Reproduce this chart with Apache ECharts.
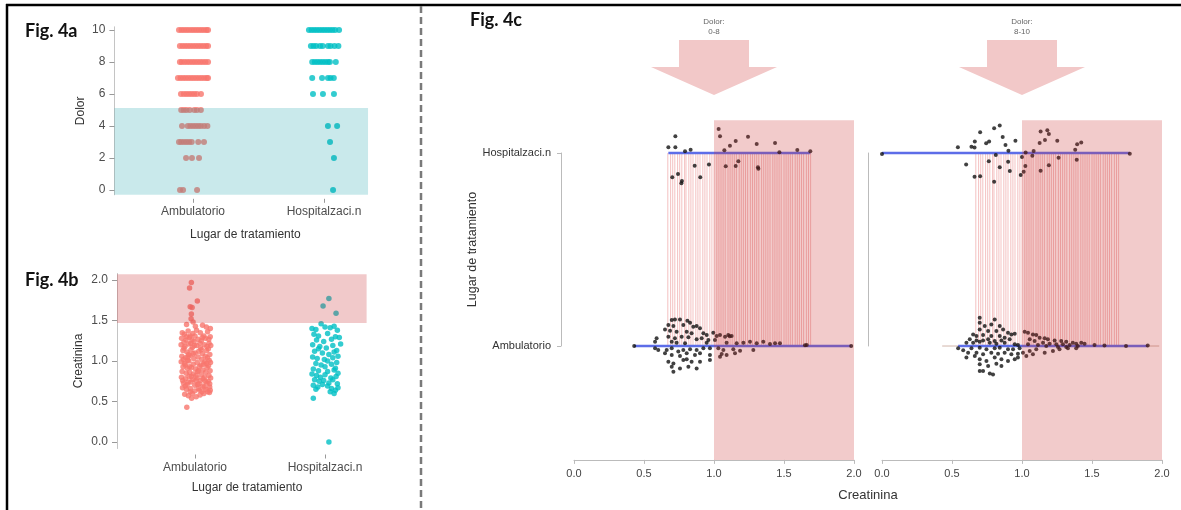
<!DOCTYPE html>
<html><head><meta charset="utf-8">
<script src="https://cdn.jsdelivr.net/npm/echarts@6/dist/echarts.min.js"></script>
<style>html,body{margin:0;padding:0;background:#fff}#c{width:1181px;height:510px}</style>
</head><body><div id="c"></div><script>
// ---------- categories & ticks ----------
const groupNames = ['Ambulatorio', 'Hospitalzaci.n'];
const groupPos = [1, 2];
const dolorTicks = [0, 2, 4, 6, 8, 10];
const creatTicks = [0, 0.5, 1, 1.5, 2];
const painGroups = ['0-8', '8-10'];

// ---------- Fig 4a: Dolor (x = group position + jitter, y = pain) ----------
const dolorAmb = [
 [0.893,10],[0.912,10],[0.931,10],[0.950,10],[0.969,10],[0.989,10],[1.008,10],[1.027,10],[1.046,10],[1.065,10],[1.084,10],[1.103,10],[1.115,10],
 [0.900,9],[0.920,9],[0.940,9],[0.960,9],[0.980,9],[1.000,9],[1.020,9],[1.040,9],[1.060,9],[1.080,9],[1.100,9],[1.115,9],
 [0.900,8],[0.915,8],[0.935,8],[0.955,8],[0.975,8],[0.995,8],[1.015,8],[1.035,8],[1.055,8],[1.075,8],[1.095,8],[1.115,8],
 [0.885,7],[0.905,7],[0.925,7],[0.945,7],[0.965,7],[0.985,7],[1.005,7],[1.025,7],[1.045,7],[1.065,7],[1.085,7],[1.105,7],[1.115,7],
 [0.908,6],[0.930,6],[0.950,6],[0.970,6],[0.990,6],[1.010,6],[1.030,6],[1.061,6],
 [0.910,5],[0.930,5],[0.950,5],[0.975,5],[1.010,5],[1.030,5],[1.060,5],
 [0.916,4],[0.960,4],[0.980,4],[1.000,4],[1.020,4],[1.040,4],[1.060,4],[1.085,4],[1.110,4],
 [0.893,3],[0.910,3],[0.930,3],[0.950,3],[0.970,3],[0.990,3],[1.040,3],[1.084,3],
 [0.947,2],[0.992,2],[1.046,2],
 [0.901,0],[0.924,0],[1.031,0]
];
const dolorHosp = [
 [1.885,10],[1.905,10],[1.925,10],[1.945,10],[1.965,10],[1.985,10],[2.005,10],[2.025,10],[2.045,10],[2.065,10],[2.085,10],[2.115,10],
 [1.900,9],[1.920,9],[1.940,9],[1.970,9],[1.990,9],[2.030,9],[2.050,9],[2.080,9],[2.110,9],
 [1.910,8],[1.930,8],[1.950,8],[1.970,8],[1.990,8],[2.010,8],[2.030,8],[2.045,8],[2.090,8],
 [1.910,7],[1.985,7],[2.030,7],[2.050,7],[2.075,7],
 [1.916,6],[1.992,6],[2.076,6],
 [2.030,4],[2.100,4],
 [2.046,3],[2.076,2],[2.069,0]
];
const dolorBand = [0.4, 2.336, -0.3, 5.12];   // low-pain band: x0, x1, y0, y1

// ---------- Fig 4b: Creatinina ----------
const creatAmb = [
 [0.972,1.97],[0.958,1.90],[1.018,1.74],[0.963,1.67],[0.978,1.66],[0.972,1.58],[0.970,1.52],[0.985,1.48],
 [0.935,1.45],[1.058,1.44],[1.087,1.42],[1.118,1.40],[1.003,1.43],
 [0.902,1.35],[0.918,1.33],[0.947,1.37],[0.983,1.34],[1.012,1.38],[1.041,1.35],[1.068,1.31],[1.097,1.36],[1.117,1.30],[0.962,1.31],
 [0.897,1.28],[0.931,1.26],[0.958,1.29],[0.992,1.24],[1.022,1.27],[1.049,1.25],[1.081,1.28],[1.108,1.22],[0.915,1.23],
 [0.893,1.20],[0.923,1.18],[0.952,1.21],[0.981,1.17],[1.013,1.19],[1.044,1.16],[1.072,1.20],[1.103,1.15],[1.121,1.19],[0.968,1.22],
 [0.907,1.13],[0.938,1.11],[0.969,1.14],[1.001,1.10],[1.029,1.12],[1.057,1.09],[1.088,1.13],[1.114,1.08],[0.951,1.08],
 [0.899,1.06],[0.928,1.04],[0.962,1.07],[0.991,1.03],[1.024,1.05],[1.052,1.02],[1.079,1.06],[1.109,1.01],[0.944,1.01],
 [0.894,0.99],[0.921,0.97],[0.953,1.00],[0.986,0.96],[1.017,0.98],[1.046,0.95],[1.076,0.99],[1.104,0.94],[1.119,0.98],
 [0.908,0.93],[0.941,0.91],[0.972,0.92],[1.004,0.90],[1.033,0.93],[1.061,0.89],[1.093,0.92],[1.116,0.88],[0.925,0.95],
 [0.901,0.87],[0.932,0.85],[0.959,0.86],[0.989,0.84],[1.021,0.87],[1.048,0.83],[1.082,0.86],[1.107,0.82],[0.972,0.81],
 [0.896,0.80],[0.927,0.78],[0.955,0.81],[0.984,0.77],[1.016,0.79],[1.043,0.76],[1.074,0.80],[1.102,0.75],[1.120,0.79],
 [0.911,0.73],[0.939,0.71],[0.968,0.74],[0.998,0.70],[1.031,0.72],[1.059,0.69],[1.091,0.73],[1.113,0.68],[1.006,0.76],
 [0.904,0.67],[0.934,0.65],[0.964,0.66],[0.996,0.63],[1.026,0.66],[1.054,0.62],[1.084,0.65],[1.111,0.61],[1.071,0.68],
 [0.921,0.59],[0.949,0.57],[0.979,0.60],[1.009,0.56],[1.039,0.58],[1.068,0.60],[1.098,0.62],[1.117,0.64],
 [0.974,0.54],[0.937,0.43],
 [0.915,1.16],[0.946,1.05],[0.977,1.26],[1.008,0.82],[1.038,1.22],[1.066,0.96],[1.095,1.04],[0.925,0.69],[0.957,0.93],
 [0.987,1.09],[1.019,0.71],[1.049,1.14],[1.079,0.75],[1.106,1.27],[0.905,0.76],[0.934,1.30],[0.963,0.62],[0.995,1.19],
 [1.027,0.88],[1.056,1.29],[1.086,0.97],[1.113,0.72],[1.035,0.64],[0.910,1.02],[1.062,0.78],[0.948,0.74],[1.092,1.18],[1.000,1.31]
];
const creatHosp = [
 [2.030,1.77],[1.985,1.68],[2.085,1.59],[1.970,1.46],[1.900,1.40],[1.930,1.39],[2.000,1.42],[2.040,1.41],[2.070,1.43],[2.095,1.38],
 [1.915,1.33],[1.950,1.31],[2.020,1.34],[2.080,1.30],[2.110,1.29],[1.935,1.26],[1.990,1.24],[2.050,1.27],[2.120,1.21],
 [1.905,1.20],[1.960,1.18],[2.010,1.16],[2.060,1.19],[2.090,1.13],[1.920,1.12],[1.950,1.15],[1.980,1.10],[2.030,1.08],
 [2.070,1.11],[2.100,1.06],[1.905,1.05],[1.940,1.03],[1.995,1.02],[2.020,1.00],[2.060,1.04],[2.090,0.98],[1.930,0.97],
 [1.970,0.95],[2.000,0.93],[2.050,0.96],[2.080,0.91],[1.910,0.90],[1.950,0.88],[2.020,0.87],[2.070,0.89],[2.100,0.85],
 [1.900,0.84],[1.935,0.82],[1.965,0.80],[2.000,0.83],[2.045,0.79],[2.085,0.81],[1.920,0.77],[1.955,0.75],[1.990,0.76],
 [2.030,0.73],[2.060,0.77],[2.095,0.72],[1.910,0.70],[1.945,0.68],[1.980,0.71],[2.020,0.69],[2.050,0.66],[2.080,0.64],
 [2.100,0.67],[2.040,0.62],[2.070,0.60],[1.930,0.65],[1.910,0.54],[2.030,0.00]
];
const creatBand = [0.4, 2.32, 1.47, 2.07];   // high-creatinine band: x0, x1, y0, y1

// ---------- Fig 4c: creatinina (x) by group (y: 0 = Ambulatorio, 1 = Hospitalzaci.n, + jitter) ----------
const hospLowPain = [
 [0.674,1.030],[0.724,1.087],[0.724,1.030],[0.793,1.009],[0.833,1.017],[0.702,0.874],[0.743,0.891],[0.771,0.855],
 [0.767,0.843],[0.862,0.934],[0.902,0.874],[0.964,0.941],[1.033,1.124],[1.043,1.087],[1.074,1.014],[1.114,1.038],
 [1.155,1.062],[1.243,1.084],[1.305,1.047],[1.436,1.052],[1.467,1.004],[1.595,1.016],[1.688,1.009],[1.084,0.931],
 [1.155,0.933],[1.174,0.957],[1.314,0.926],[1.317,0.919]
];
const ambLowPain = [
 [0.430,0.000],[1.980,0.000],[1.650,0.004],[1.662,0.005],[1.112,0.050],
 [0.698,0.135],[0.721,0.138],[0.757,0.138],[0.810,0.131],[0.829,0.121],[0.674,0.109],[0.710,0.104],[0.781,0.109],
 [0.852,0.100],[0.876,0.104],[0.900,0.092],[0.650,0.086],[0.686,0.079],[0.733,0.074],[0.805,0.074],[0.840,0.066],
 [0.924,0.066],[0.948,0.057],[0.995,0.069],[1.019,0.052],[1.043,0.057],[1.079,0.048],[1.102,0.057],[1.126,0.052],
 [0.590,0.040],[0.674,0.048],[0.721,0.040],[0.769,0.048],[0.817,0.045],[0.876,0.035],[0.912,0.040],[0.960,0.031],
 [1.007,0.031],[0.579,0.022],[0.698,0.022],[0.733,0.017],[0.793,0.014],[0.948,0.017],[1.090,0.017],[1.162,0.014],
 [1.210,0.017],[1.257,0.022],[1.305,0.014],[1.352,0.022],[1.400,0.010],[1.436,0.014],[1.471,0.014],
 [0.579,-0.012],[0.602,-0.021],[0.662,-0.021],[0.698,-0.012],[0.745,-0.029],[0.781,-0.021],[0.829,-0.017],[0.876,-0.021],
 [0.924,-0.012],[0.971,-0.012],[1.031,-0.012],[1.067,-0.021],[1.138,-0.017],[1.186,-0.024],[1.281,-0.021],
 [0.650,-0.038],[0.698,-0.047],[0.757,-0.052],[0.805,-0.038],[0.864,-0.047],[0.900,-0.038],[0.971,-0.047],[1.055,-0.041],
 [1.150,-0.038],[0.674,-0.081],[0.710,-0.090],[0.781,-0.073],[0.805,-0.069],[0.840,-0.081],[0.900,-0.081],
 [0.698,-0.107],[0.710,-0.133],[0.757,-0.116],[0.817,-0.107],[0.876,-0.116],[0.971,-0.073],[1.043,-0.055],[1.090,-0.047]
];
const hospHighPain = [
 [0.000,0.995],[0.542,1.030],[0.601,0.941],[0.639,1.033],[0.661,1.028],[0.663,1.059],[0.701,1.107],[0.661,0.877],
 [0.701,0.879],[0.744,1.050],[0.765,1.059],[0.763,0.957],[0.801,1.128],[0.841,1.143],[0.813,0.990],[0.841,0.926],
 [0.801,0.851],[0.862,1.083],[0.882,1.041],[0.903,1.012],[0.901,0.955],[0.913,0.907],[0.953,1.064],[1.000,0.979],
 [0.991,0.886],[1.012,0.903],[1.024,0.933],[1.026,1.002],[1.074,0.986],[1.083,1.010],[1.126,1.052],[1.133,1.112],
 [1.164,1.067],[1.181,1.118],[1.192,1.098],[1.133,0.908],[1.192,0.936],[1.252,1.064],[1.261,0.976],[1.380,1.017],
 [1.394,1.045],[1.423,1.055],[1.391,0.965],[1.770,0.996]
];
const ambHighPain = [
 [0.698,0.147],[0.698,0.121],[0.805,0.138],[0.781,0.112],[0.734,0.104],[0.841,0.104],[0.698,0.086],[0.758,0.078],
 [0.817,0.078],[0.865,0.086],[0.900,0.069],[0.924,0.060],[0.948,0.064],[0.651,0.060],[0.675,0.052],[0.722,0.057],
 [0.781,0.052],[0.841,0.052],[0.876,0.043],[0.627,0.035],[0.675,0.029],[0.722,0.029],[0.758,0.035],[0.805,0.026],
 [0.853,0.029],[0.912,0.035],[0.603,0.017],[0.651,0.017],[0.698,0.022],[0.770,0.017],[0.817,0.012],[0.876,0.017],
 [0.948,0.009],[0.971,0.005],
 [1.019,0.074],[1.043,0.069],[1.078,0.060],[1.102,0.057],[1.126,0.043],[1.162,0.040],[1.185,0.035],[1.233,0.029],
 [1.280,0.026],[1.316,0.022],[1.363,0.017],[1.387,0.012],[1.423,0.017],[1.447,0.012],[1.055,0.035],[1.090,0.026],
 [1.150,0.017],[1.197,0.012],[1.245,0.009],[1.292,0.009],[1.340,0.005],[1.043,0.009],[1.114,0.005],[1.173,0.000],
 [1.257,-0.005],[1.316,-0.005],[1.399,0.000],[1.518,0.005],[1.589,0.003],[1.743,0.000],[1.898,0.003],
 [0.544,-0.012],[0.580,-0.022],[0.639,-0.012],[0.698,-0.009],[0.746,-0.017],[0.805,-0.012],[0.841,-0.009],[0.900,-0.017],
 [0.936,-0.017],[0.983,-0.012],[0.615,-0.035],[0.675,-0.035],[0.722,-0.043],[0.781,-0.035],[0.829,-0.040],[0.876,-0.035],
 [0.924,-0.043],[0.971,-0.040],[1.007,-0.035],[1.055,-0.026],[1.102,-0.017],[1.162,-0.035],[1.221,-0.026],[1.268,-0.017],
 [1.328,-0.012],[1.387,-0.012],[0.603,-0.060],[0.663,-0.052],[0.698,-0.069],[0.746,-0.078],[0.805,-0.060],[0.853,-0.069],
 [0.900,-0.078],[0.948,-0.069],[0.971,-0.060],[1.031,-0.052],[1.078,-0.043],[0.698,-0.095],[0.758,-0.104],[0.817,-0.092],
 [0.853,-0.104],[0.698,-0.130],[0.722,-0.130],[0.770,-0.143],[0.793,-0.147]
];
const linkX = [
 0.670,0.690,0.705,0.720,0.740,0.755,0.770,0.790,0.800,0.820,0.835,0.850,0.870,0.885,0.900,0.920,0.935,0.950,0.970,0.985,
 1.000,1.020,1.035,1.050,1.065,1.080,1.100,1.115,1.130,1.145,1.160,1.180,1.195,1.210,1.225,1.240,1.260,1.275,1.290,1.305,
 1.320,1.340,1.355,1.370,1.385,1.400,1.420,1.435,1.450,1.465,1.480,1.500,1.515,1.530,1.545,1.560,1.580,1.595,1.610,1.625,
 1.640,1.660,1.675,1.690
];
const creatThreshold = 1.0;
const highCreatBand = [1.0, 2.0, -0.59, 1.17];

// ---------- helpers ----------
const FONT = 'Liberation Sans';
const xs = a => a.map(d => d[0]);
const rangeOf = a => [Math.min(...xs(a)), Math.max(...xs(a))];

function rectRender(color) {
  return function (params, api) {
    const p0 = api.coord([api.value(0), api.value(2)]);
    const p1 = api.coord([api.value(1), api.value(3)]);
    return { type: 'rect',
      shape: { x: Math.min(p0[0], p1[0]), y: Math.min(p0[1], p1[1]), width: Math.abs(p1[0] - p0[0]), height: Math.abs(p1[1] - p0[1]) },
      style: { fill: color } };
  };
}
function segRender(color, width) {
  return function (params, api) {
    const a = api.coord([api.value(0), api.value(1)]);
    const b = api.coord([api.value(2), api.value(3)]);
    return { type: 'line', shape: { x1: a[0], y1: a[1], x2: b[0], y2: b[1] }, style: { stroke: color, lineWidth: width } };
  };
}
function arrowRender(params, api) {
  const p = api.coord([api.value(0), api.value(1)]);
  const cx = p[0], by = p[1];
  return { type: 'group', children: [
    { type: 'polygon', shape: { points: [[cx - 35, by - 113], [cx + 35, by - 113], [cx + 35, by - 86], [cx + 63, by - 86], [cx, by - 58], [cx - 63, by - 86], [cx - 35, by - 86]] },
      style: { fill: '#f2c8c8' } },
    { type: 'text', style: { text: 'Dolor:\n' + painGroups[api.value(2)], x: cx, y: by - 126, align: 'center', verticalAlign: 'middle',
      fontSize: 8, lineHeight: 10, fill: '#666', fontFamily: FONT } }
  ] };
}

const RED = '#F8766D', TEAL = '#00BFC4';
const grids = [
  { left: 114.4, top: 26.8, width: 262, height: 168 },
  { left: 117, top: 273.5, width: 260, height: 175 },
  { left: 574, top: 114.4, width: 280, height: 345.5 },
  { left: 882, top: 114.4, width: 280, height: 345.5 },
  { left: 561, top: 153, width: 1, height: 193 },
  { left: 868, top: 153, width: 1, height: 193 }
].map(g => Object.assign({ outerBoundsMode: 'none', containLabel: false }, g));

const catX = (gi, off, gap) => ({
  gridIndex: gi, type: 'value', min: 0.4, max: 2.4, offset: off,
  axisLine: { show: false, onZero: false }, splitLine: { show: false },
  axisTick: { show: true, length: 4, customValues: groupPos, lineStyle: { color: '#999' } },
  axisLabel: { customValues: groupPos, formatter: v => groupNames[Math.round(v) - 1], fontSize: 12, color: '#4d4d4d', fontFamily: FONT, margin: 7 },
  name: 'Lugar de tratamiento', nameLocation: 'middle', nameGap: gap,
  nameTextStyle: { fontSize: 12, color: '#333', fontFamily: FONT }
});
const valY = (gi, min, max, ticks, fmt, name, gap) => ({
  gridIndex: gi, type: 'value', min: min, max: max,
  axisLine: { show: true, onZero: false, lineStyle: { color: '#c4c4c4' } }, splitLine: { show: false },
  axisTick: { show: true, length: 5, customValues: ticks, lineStyle: { color: '#999' } },
  axisLabel: { customValues: ticks, formatter: fmt, fontSize: 12, color: '#4d4d4d', fontFamily: FONT, margin: 9 },
  name: name, nameLocation: 'middle', nameGap: gap, nameTextStyle: { fontSize: 12, color: '#333', fontFamily: FONT }
});
const creatX = gi => ({
  gridIndex: gi, type: 'value', min: 0, max: 2, interval: 0.5,
  axisLine: { show: true, onZero: false, lineStyle: { color: '#bbb' } }, splitLine: { show: false },
  axisTick: { show: true, length: 4, lineStyle: { color: '#bbb' } },
  axisLabel: { formatter: v => v.toFixed(1), fontSize: 11, color: '#444', fontFamily: FONT, margin: 9, showMinLabel: true, showMaxLabel: true }
});
const hiddenY = gi => ({ gridIndex: gi, type: 'value', min: -0.59, max: 1.2, show: false, axisLine: { onZero: false } });

const option = {
  animation: false,
  backgroundColor: '#fff',
  grid: grids,
  xAxis: [
    catX(0, 4, 30),
    catX(1, 6, 27),
    creatX(2),
    creatX(3),
    { gridIndex: 4, type: 'value', show: false, min: 0, max: 1, axisLine: { onZero: false } },
    { gridIndex: 5, type: 'value', show: false, min: 0, max: 1, axisLine: { onZero: false } }
  ],
  yAxis: [
    valY(0, -0.3, 10.2, dolorTicks, v => String(v), 'Dolor', 28),
    valY(1, -0.08, 2.08, creatTicks, v => v.toFixed(1), 'Creatinina', 32),
    hiddenY(2),
    hiddenY(3),
    { gridIndex: 4, type: 'value', min: 0, max: 1, interval: 1,
      axisLine: { show: true, onZero: false, lineStyle: { color: '#bbb' } }, splitLine: { show: false },
      axisTick: { show: true, length: 4, lineStyle: { color: '#bbb' } },
      axisLabel: { formatter: v => groupNames[v], fontSize: 11, color: '#333', fontFamily: FONT, margin: 10 },
      name: 'Lugar de tratamiento', nameLocation: 'middle', nameGap: 82,
      nameTextStyle: { fontSize: 12.5, color: '#333', fontFamily: FONT } },
    { gridIndex: 5, type: 'value', min: 0, max: 1,
      axisLine: { show: true, onZero: false, lineStyle: { color: '#bbb' } }, splitLine: { show: false },
      axisTick: { show: false }, axisLabel: { show: false } }
  ],
  graphic: [
    { type: 'line', shape: { x1: 6, y1: 5, x2: 1181, y2: 5 }, style: { stroke: '#000', lineWidth: 2.5 } },
    { type: 'line', shape: { x1: 7, y1: 4, x2: 7, y2: 510 }, style: { stroke: '#000', lineWidth: 2.5 } },
    { type: 'line', shape: { x1: 421, y1: 6, x2: 421, y2: 510 }, style: { stroke: '#7a7a7a', lineWidth: 2.5, lineDash: [7, 4] } },
    { type: 'text', style: { text: 'Fig. 4a', x: 25, y: 31, verticalAlign: 'middle', font: 'bold 18px Lato', fill: '#111' } },
    { type: 'text', style: { text: 'Fig. 4b', x: 25, y: 280, verticalAlign: 'middle', font: 'bold 18px Lato', fill: '#111' } },
    { type: 'text', style: { text: 'Fig. 4c', x: 470, y: 20, verticalAlign: 'middle', font: 'bold 18px Lato', fill: '#111' } },
    { type: 'text', style: { text: 'Creatinina', x: 868, y: 495, align: 'center', verticalAlign: 'middle', font: '13px "Liberation Sans"', fill: '#333' } }
  ],
  series: [
    // Fig 4a
    { type: 'scatter', xAxisIndex: 0, yAxisIndex: 0, data: dolorAmb, symbolSize: 6, itemStyle: { color: RED }, z: 2 },
    { type: 'scatter', xAxisIndex: 0, yAxisIndex: 0, data: dolorHosp, symbolSize: 6, itemStyle: { color: TEAL }, z: 2 },
    { type: 'custom', xAxisIndex: 0, yAxisIndex: 0, data: [dolorBand], encode: { x: [0, 1], y: [2, 3] }, clip: false,
      renderItem: rectRender('rgba(0,150,160,0.21)'), z: 3, silent: true },
    // Fig 4b
    { type: 'scatter', xAxisIndex: 1, yAxisIndex: 1, data: creatAmb, symbolSize: 5.5, itemStyle: { color: RED }, z: 2 },
    { type: 'scatter', xAxisIndex: 1, yAxisIndex: 1, data: creatHosp, symbolSize: 5.5, itemStyle: { color: TEAL }, z: 2 },
    { type: 'custom', xAxisIndex: 1, yAxisIndex: 1, data: [creatBand], encode: { x: [0, 1], y: [2, 3] }, clip: false,
      renderItem: rectRender('rgba(205,55,60,0.27)'), z: 3, silent: true },
    // Fig 4c panels
    ...[[2, hospLowPain, ambLowPain, 0], [3, hospHighPain, ambHighPain, 1]].flatMap(([ax, hosp, amb, k]) => {
      const hr = rangeOf(hosp), ar = rangeOf(amb);
      const allAmb = rangeOf(ambLowPain.concat(ambHighPain));
      const s = [
        { type: 'custom', xAxisIndex: ax, yAxisIndex: ax, data: linkX.map(x => [x, 0, x, 1]), encode: { x: [0, 2], y: [1, 3] },
          clip: false, renderItem: segRender('rgba(225,95,95,0.38)', 1), z: 1, silent: true },
        { type: 'custom', xAxisIndex: ax, yAxisIndex: ax, data: [[hr[0], 1, hr[1], 1], [ar[0], 0, ar[1], 0]], encode: { x: [0, 2], y: [1, 3] },
          clip: false, renderItem: segRender('#5d6de8', 2.5), z: 3, silent: true },
        { type: 'scatter', xAxisIndex: ax, yAxisIndex: ax, data: hosp, symbolSize: 4, itemStyle: { color: '#111' }, z: 4 },
        { type: 'scatter', xAxisIndex: ax, yAxisIndex: ax, data: amb, symbolSize: 4, itemStyle: { color: '#111' }, z: 4 },
        { type: 'custom', xAxisIndex: ax, yAxisIndex: ax, data: [highCreatBand], encode: { x: [0, 1], y: [2, 3] }, clip: false,
          renderItem: rectRender('rgba(205,55,55,0.26)'), z: 6, silent: true },
        { type: 'custom', xAxisIndex: ax, yAxisIndex: ax, data: [[creatThreshold, 1, k]], encode: { x: 0, y: 1 }, clip: false,
          renderItem: arrowRender, z: 6, silent: true }
      ];
      if (k === 1) {
        s.unshift({ type: 'custom', xAxisIndex: ax, yAxisIndex: ax, data: [[allAmb[0], 0, allAmb[1], 0]], encode: { x: [0, 2], y: [1, 3] },
          clip: false, renderItem: segRender('rgba(170,120,100,0.55)', 1), z: 2, silent: true });
      }
      return s;
    })
  ]
};
const chart = echarts.init(document.getElementById('c'), null, { renderer: 'canvas' });
chart.setOption(option);
</script></body></html>
